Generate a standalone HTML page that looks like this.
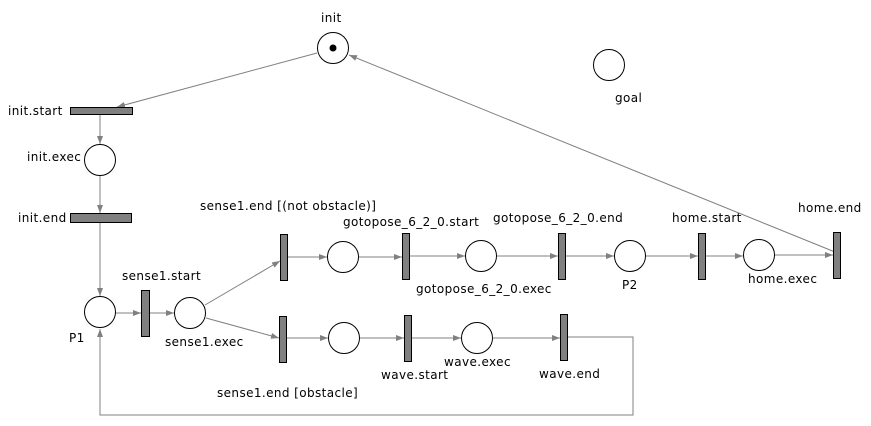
<!DOCTYPE html>
<html><head><style>
body{margin:0;background:#fff}
svg{display:block}
text{font-family:"DejaVu Sans","Liberation Sans",sans-serif;font-size:12px;fill:#000;letter-spacing:0.4px}
</style></head><body>
<svg width="871" height="426" viewBox="0 0 871 426" xmlns="http://www.w3.org/2000/svg">
<defs><marker id="a" markerWidth="8" markerHeight="6" refX="8" refY="3" orient="auto" markerUnits="userSpaceOnUse"><path d="M0,0L8,3L0,6z" fill="#808080"/></marker></defs>
<g stroke="#808080" stroke-width="1" fill="none" marker-end="url(#a)">
<line x1="317" y1="53" x2="117" y2="107"/>
<line x1="100" y1="114" x2="100" y2="144"/>
<line x1="100" y1="176" x2="100" y2="213"/>
<line x1="100" y1="223" x2="100" y2="296"/>
<line x1="116" y1="313" x2="141" y2="313"/>
<line x1="150" y1="313" x2="174" y2="313"/>
<line x1="205" y1="305" x2="280" y2="261"/>
<line x1="206" y1="318" x2="279" y2="338"/>
<line x1="288" y1="257" x2="327" y2="257"/>
<line x1="359" y1="257" x2="402" y2="257"/>
<line x1="409" y1="256" x2="465" y2="256"/>
<line x1="497" y1="256" x2="558" y2="256"/>
<line x1="565" y1="256" x2="614" y2="256"/>
<line x1="646" y1="256" x2="698" y2="256"/>
<line x1="706" y1="256" x2="743" y2="256"/>
<line x1="775" y1="255" x2="833" y2="255"/>
<line x1="835" y1="252" x2="349" y2="55"/>
<line x1="287" y1="338" x2="328" y2="338"/>
<line x1="360" y1="338" x2="404" y2="338"/>
<line x1="411" y1="338" x2="461" y2="338"/>
<line x1="493" y1="338" x2="560" y2="338"/>
<polyline points="568,337 633,337 633,415 100,415 100,329"/>
</g>
<g stroke="#000" fill="#fff">
<circle cx="333" cy="48" r="15.5"/>
<circle cx="609" cy="65" r="15.5"/>
<circle cx="100" cy="160" r="15.5"/>
<circle cx="100" cy="312" r="15.5"/>
<circle cx="190" cy="313" r="15.5"/>
<circle cx="343" cy="257" r="15.5"/>
<circle cx="481" cy="256" r="15.5"/>
<circle cx="630" cy="256" r="15.5"/>
<circle cx="759" cy="255" r="15.5"/>
<circle cx="344" cy="338" r="15.5"/>
<circle cx="477" cy="338" r="15.5"/>
</g>
<circle cx="333" cy="48" r="3.5" fill="#000"/>
<g stroke="#000" fill="#808080">
<rect x="70.5" y="107.5" width="62" height="7"/>
<rect x="70.5" y="213.5" width="61" height="9"/>
<rect x="141.5" y="290.5" width="8" height="46"/>
<rect x="280.5" y="234.5" width="7" height="46"/>
<rect x="402.5" y="233.5" width="7" height="46"/>
<rect x="558.5" y="233.5" width="7" height="46"/>
<rect x="698.5" y="233.5" width="7" height="46"/>
<rect x="833.5" y="232.5" width="7" height="46"/>
<rect x="279.5" y="316.5" width="7" height="46"/>
<rect x="404.5" y="315.5" width="7" height="46"/>
<rect x="560.5" y="314.5" width="7" height="46"/>
</g>
<text x="321" y="22">init</text>
<text x="615" y="102">goal</text>
<text x="8" y="115">init.start</text>
<text x="27" y="161">init.exec</text>
<text x="18" y="222">init.end</text>
<text x="200" y="210">sense1.end [(not obstacle)]</text>
<text x="343" y="226">gotopose_6_2_0.start</text>
<text x="493" y="222">gotopose_6_2_0.end</text>
<text x="416" y="293">gotopose_6_2_0.exec</text>
<text x="622" y="289">P2</text>
<text x="672" y="222">home.start</text>
<text x="798" y="212">home.end</text>
<text x="748" y="283">home.exec</text>
<text x="122" y="280">sense1.start</text>
<text x="69" y="342">P1</text>
<text x="165" y="346">sense1.exec</text>
<text x="381" y="379">wave.start</text>
<text x="444" y="366">wave.exec</text>
<text x="539" y="378">wave.end</text>
<text x="217" y="397">sense1.end [obstacle]</text>
</svg>
</body></html>
